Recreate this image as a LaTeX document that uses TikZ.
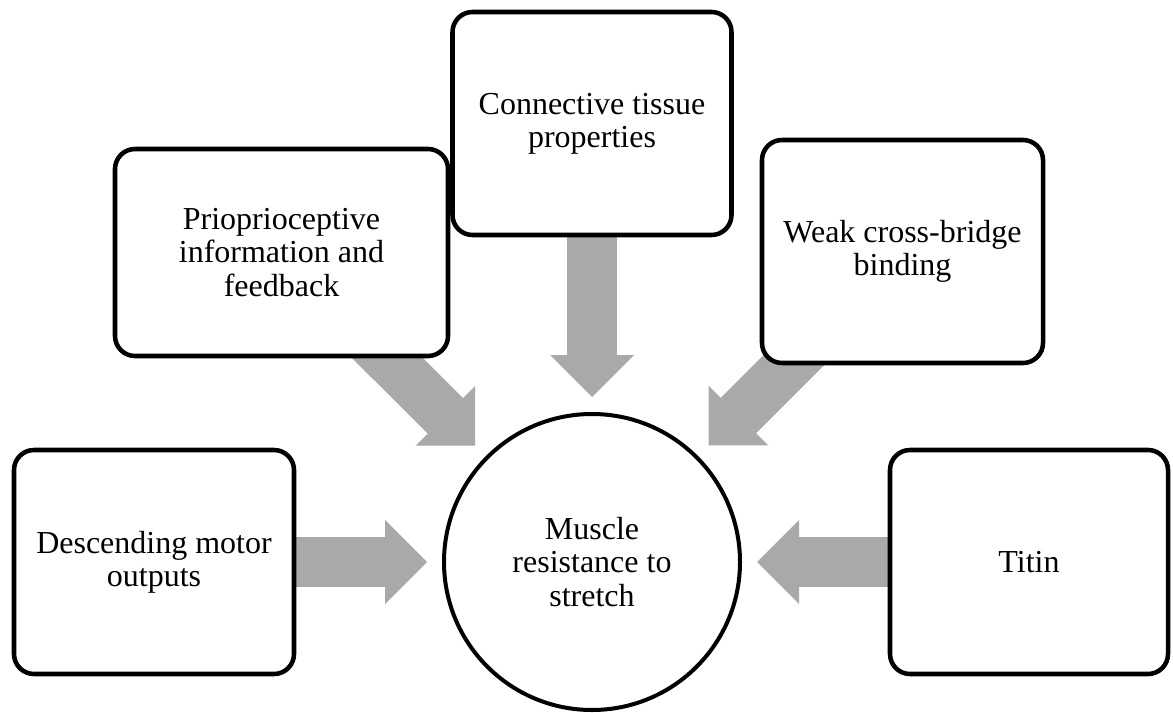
\documentclass[tikz,border=0pt]{standalone}
\usepackage{fontspec}
\setmainfont{Liberation Serif}
\usetikzlibrary{arrows.meta,backgrounds}
\definecolor{arrowgray}{RGB}{169,169,169}
\begin{document}
\begin{tikzpicture}[x=0.75pt,y=-0.75pt]
	\tikzstyle{factor}=[rectangle,rounded corners=15pt,line width=3.4pt,draw=black,fill=white,align=center,inner sep=0pt,font=\fontsize{24}{25}\selectfont]
	\tikzstyle{outcome}=[circle,line width=3pt,draw=black,fill=white,align=center,inner sep=0pt,minimum size=222pt,font=\fontsize{24}{25}\selectfont]
	\tikzstyle{push}=[draw=arrowgray,line width=37.5pt,shorten >=11.25pt,-{Triangle[width=63pt,length=31.5pt,line width=0pt]}]
	\useasboundingbox (0,0) rectangle (1173,713);
	\begin{scope}

	  \node [outcome] (muscle) at (592,562) {Muscle\\resistance to\\stretch};
	  \node [factor,minimum width=209.25pt,minimum height=167.25pt] (conn) at (592,123.5) {Connective tissue\\properties};
	  \node [factor,minimum width=249.75pt,minimum height=155.25pt] (prio) at (281.5,252.5) {Prioprioceptive\\information and\\feedback};
	  \node [factor,minimum width=210.75pt,minimum height=167.25pt] (weak) at (902.5,251.5) {Weak cross-bridge\\binding};
	  \node [factor,minimum width=210pt,minimum height=168pt] (desc) at (154,562) {Descending motor\\outputs};
	  \node [factor,minimum width=208.5pt,minimum height=168pt] (titin) at (1029,562) {Titin};

	  \begin{scope}[on background layer]
	    \draw[push] (desc.center) -- (muscle);
	    \draw[push] (prio.center) -- (muscle);
	    \draw[push] (conn.center) -- (muscle);
	    \draw[push] (weak.center) -- (muscle);
	    \draw[push] (titin.center) -- (muscle);
	  \end{scope}

	\end{scope}
\end{tikzpicture}
\end{document}
